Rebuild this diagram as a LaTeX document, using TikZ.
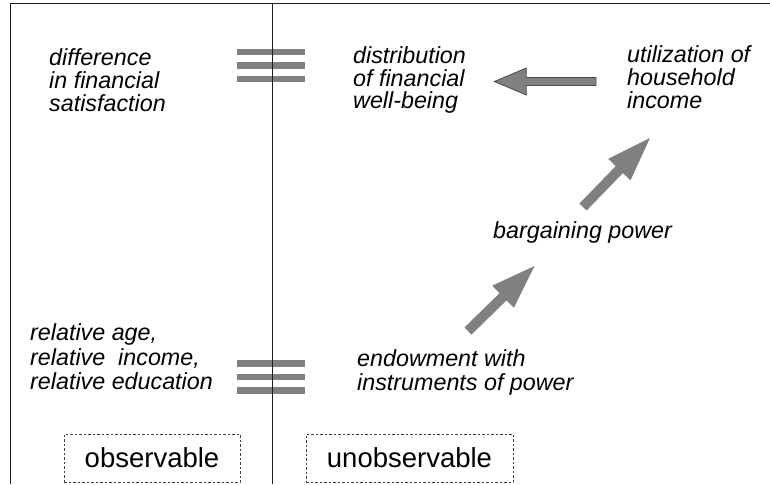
\documentclass[tikz,border=0pt]{standalone}
\usepackage{fontspec}
\setmainfont{Liberation Sans}
\usetikzlibrary{calc}
\definecolor{bargray}{RGB}{128,128,128}
\definecolor{framegray}{RGB}{30,30,30}
\tikzset{
  frameline/.style={draw=framegray, line width=0.9pt},
  eqbar/.style={fill=bargray, draw=none},
  label/.style={anchor=base west, inner sep=0pt, align=left, font=\fontsize{23.3}{22.8}\selectfont\itshape},
  labellow/.style={anchor=base west, inner sep=0pt, align=left, font=\fontsize{23.3}{24.5}\selectfont\itshape},
  tagbox/.style={draw=black!75, dash pattern=on 2.5pt off 2pt, line width=0.8pt, inner sep=0pt,
     minimum height=48pt, font=\fontsize{27.5}{30}\selectfont},
  outlinedarrow/.style={fill=bargray, draw=black!70, line width=0.8pt},
  plainarrow/.style={fill=bargray, draw=none},
}
\newcommand\blockarrow[6]{%
  \path ($(#2)!#5!(#1)$) coordinate (hb);
  \path[#6] ($(#1)!#3!90:(#2)$) -- ($(hb)!#3!90:(#2)$) -- ($(hb)!#4!90:(#2)$) -- (#2)
     -- ($(hb)!#4!-90:(#2)$) -- ($(hb)!#3!-90:(#2)$) -- ($(#1)!#3!-90:(#2)$) -- cycle;
}
\begin{document}
\begin{tikzpicture}[x=1pt,y=-1pt]
\useasboundingbox (0,0) rectangle (770,484);
% equal signs
\foreach \yy in {52,65.5,79} { \fill[eqbar] (237,\yy-3.1) rectangle (305,\yy+3.1); }
\foreach \yy in {363.5,377,390.5} { \fill[eqbar] (237,\yy-3.2) rectangle (305,\yy+3.2); }
% frame
\coordinate (tl) at (10,3.5);
\coordinate (tr) at (770,3.5);
\coordinate (bl) at (10,484);
\coordinate (dt) at (272.5,3.5);
\coordinate (db) at (272.5,484);
\draw[frameline] (bl) -- (tl) -- (tr);
\draw[frameline] (dt) -- (db);
% texts (anchor = baseline of the last line)
\node[label] (diff) at (49,111) {difference\\in financial\\satisfaction};
\node[label] (dist) at (353,109) {distribution\\of financial\\well-being};
\node[label] (util) at (627,108.5) {utilization of\\household\\income};
\node[label] (barg) at (493,238) {bargaining power};
\node[labellow] (rel) at (30,389.5) {relative age,\\relative\ \ income,\\relative education};
\node[labellow] (endow) at (357,390.5) {endowment with\\instruments of power};
% boxes
\node[tagbox, minimum width=176pt] (obs) at (152,458) {observable};
\node[tagbox, minimum width=207pt] (unobs) at (409.5,458) {unobservable};
% arrows
\coordinate (a1s) at (596,81.5);
\coordinate (a1e) at (494.3,81.5);
\coordinate (a2s) at (583,207);
\coordinate (a2e) at (650,138);
\coordinate (a3s) at (468,331);
\coordinate (a3e) at (534.5,266);
\blockarrow{a1s}{a1e}{4pt}{13.5pt}{32pt}{outlinedarrow}
\blockarrow{a2s}{a2e}{5pt}{15.5pt}{44pt}{plainarrow}
\blockarrow{a3s}{a3e}{5pt}{15.5pt}{44pt}{plainarrow}
\end{tikzpicture}
\end{document}
